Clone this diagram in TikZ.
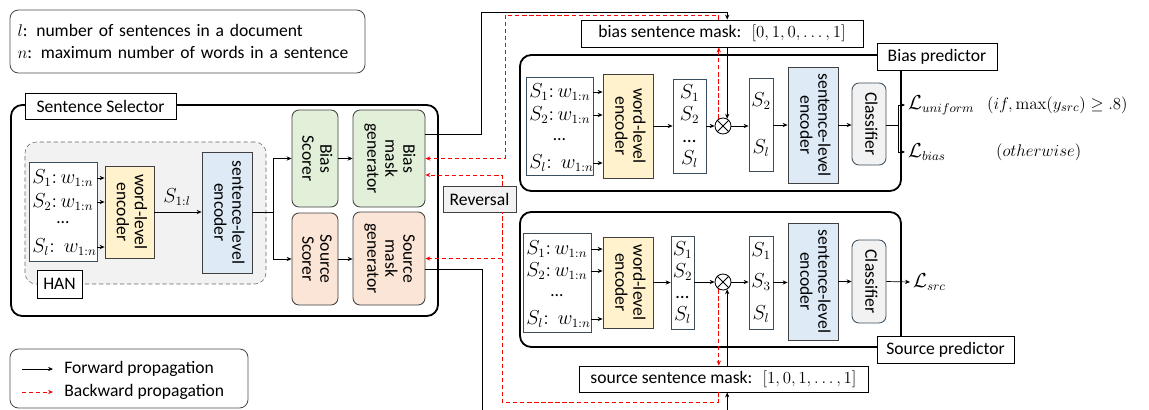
\documentclass[tikz,border=0pt]{standalone}
\usepackage{amsmath,amssymb}
\usepackage[no-math]{fontspec}
\setmainfont{Carlito}
\usepackage{graphicx}
\usetikzlibrary{arrows.meta}

\definecolor{grnfill}{HTML}{E2F0D9}
\definecolor{pchfill}{HTML}{FBE5D6}
\definecolor{ylwfill}{HTML}{FFF2CC}
\definecolor{blufill}{HTML}{DEEBF7}
\definecolor{gryfill}{HTML}{F2F2F2}
\definecolor{edge}{HTML}{3B4E5E}

% rotated (top-down) multi-line text
\newcommand{\vtxt}[1]{\rotatebox{-90}{\renewcommand{\arraystretch}{0.85}\begin{tabular}{@{}c@{}}#1\end{tabular}}}

\begin{document}
\begin{tikzpicture}[x=0.025cm, y=-0.025cm, >={Stealth[length=3.5pt,width=3pt]},
      every node/.style={font=\fontsize{12.5}{15}\selectfont, inner sep=0pt},
      mth/.style={font=\fontsize{13.5}{15.5}\selectfont},
      sz/.style 2 args={minimum width=#1*0.025cm, minimum height=#2*0.025cm},
      blk/.style={draw=black!75, line width=0.6pt},
      rblk/.style={blk, rounded corners=5pt},
      inb/.style={draw=edge, line width=0.6pt, fill=white, align=center, mth},
      frame/.style={draw, line width=1.3pt, rounded corners=8pt},
      tag/.style={draw, line width=0.6pt, fill=white},
      arr/.style={->, line width=0.5pt},
      rdash/.style={red, line width=0.6pt, dash pattern=on 3pt off 2pt},
      barr/.style={rdash, ->},
      lbl/.style={anchor=west, inner sep=2pt, mth}]

    \useasboundingbox (0,0) rectangle (1149,409);
    \clip (0,0) rectangle (1149,409);

    % ---- Notes ----
    \node[draw=black!70, line width=0.6pt, rounded corners=6pt, sz={355}{63},
          align=left, text width=340*0.025cm] (notes) at (187.5,41.5)
          {$l$: number of sentences in a document\\$n$: maximum number of words in a sentence};

    % ---- Sentence Selector ----
    \node[frame, sz={427}{211}] (sel) at (224.5,210.5) {};
    \node[draw=black!60, densely dashed, fill=gryfill, rounded corners=8pt, sz={241}{142}] (han) at (145.5,213) {};
    \node[tag, sz={151}{26}] (seltag) at (100.5,106) {Sentence Selector};
    \node[tag, sz={45}{28}] (hantag) at (59.5,284) {HAN};

    \node[inb, sz={68}{99}] (selin) at (63,211.5) {};
    \node[anchor=west, mth] (r1) at (32,178) {$S_1{:}\,w_{1:n}$};
    \node[anchor=west, mth] (r2) at (32,202) {$S_2{:}\,w_{1:n}$};
    \node (rd) at (63,223) {…};
    \node[anchor=west, mth] (rl) at (32,247) {$S_l{:}\;\,w_{1:n}$};
    \node[blk, fill=ylwfill, sz={49}{92}] (swenc) at (129.5,212) {\vtxt{word-level\\encoder}};
    \node[blk, fill=blufill, sz={50}{121}] (ssenc) at (227,212.5) {\vtxt{sentence-level\\encoder}};
    \node[mth] (s1l) at (177,197) {$S_{1:l}$};

    \node[rblk, fill=grnfill, sz={46}{97}] (bsc) at (315,158.5) {\vtxt{Bias\\Scorer}};
    \node[rblk, fill=pchfill, sz={46}{92}] (ssc) at (315,259) {\vtxt{Source\\Scorer}};
    \node[rblk, fill=grnfill, sz={72}{97}] (bmg) at (389,158.5) {\vtxt{Bias\\mask\\generator}};
    \node[rblk, fill=pchfill, sz={72}{93}] (smg) at (389,258.5) {\vtxt{Source\\mask\\generator}};
    \node[blk, fill=gryfill, sz={73}{26}] (rev) at (479.5,199) {Reversal};

    \foreach \r in {r1,r2,rl}
      \draw[arr] (\r -| selin.east) -- (\r -| swenc.west);
    \draw[arr] (swenc.east) -- (swenc.east -| ssenc.west);
    \coordinate (split) at (273,212);
    \draw (ssenc.east |- split) -- (split);
    \draw[arr] (split) |- (bsc.west);
    \draw[arr] (split) |- (ssc.west);
    \draw[arr] (bsc.east) -- (bmg.west);
    \draw[arr] (ssc.east) -- (ssc.east -| smg.west);

    % ---- Bias predictor ----
    \node[frame, sz={381}{136}] (bpred) at (710.5,123) {};
    \node[tag, sz={120}{27}] (bptag) at (937,56.5) {Bias predictor};
    \node[tag, sz={282}{27}] (bmask) at (722,33.5) {bias sentence mask:\; $[0,1,0,\dots,1]$};

    \node[inb, sz={67}{98}] (bin) at (559.5,126) {};
    \node[anchor=west, mth] (b1) at (529,92) {$S_1{:}\,w_{1:n}$};
    \node[anchor=west, mth] (b2) at (529,115) {$S_2{:}\,w_{1:n}$};
    \node (bd) at (559.5,140) {…};
    \node[anchor=west, mth] (bl) at (529,163) {$S_l{:}\;\,w_{1:n}$};
    \node[blk, fill=ylwfill, sz={50}{104}] (bwenc) at (628,126) {\vtxt{word-level\\encoder}};
    \node[inb, sz={33}{94}] (bs) at (689.5,126) {$S_1$\\$S_2$\\…\\$S_l$};
    \node[circle, draw, line width=0.6pt, minimum size=16*0.025cm] (bx) at (723,126) {};
    \draw[line width=0.6pt] (bx.north west) -- (bx.south east) (bx.north east) -- (bx.south west);
    \node[inb, sz={24}{93}] (bsel) at (761,124.5) {$S_2$\\[18pt]$S_l$};
    \node[blk, fill=blufill, sz={50}{116}] (bsenc) at (813,125) {\vtxt{sentence-level\\encoder}};
    \node[rblk, draw=edge, fill=gryfill, sz={34}{82}] (bcls) at (869,124) {\vtxt{Classifier}};
    \node[lbl] (luni) at (905,105) {$\mathcal{L}_{uniform}$};
    \node[lbl] (lbias) at (905,152) {$\mathcal{L}_{bias}$};
    \node[lbl, font=\fontsize{12.5}{15}\selectfont] (cuni) at (984,105) {$(if, \max(y_{src}) \geq .8)$};
    \node[lbl, font=\fontsize{12.5}{15}\selectfont] (cbias) at (993,152) {$(otherwise)$};

    \foreach \r in {b1,b2,bl}
      \draw[arr] (\r -| bin.east) -- (\r -| bwenc.west);
    \draw[arr] (bwenc.east) -- (bs.west);
    \draw[arr] (bs.east) -- (bx.west);
    \draw[arr] (bx.east) -- (bx.east -| bsel.west);
    \draw[arr] (bsel.east |- bsenc.west) -- (bsenc.west);
    \draw[arr] (bsenc.east) -- (bsenc.east -| bcls.west);
    \coordinate (bbr) at (898,125);
    \draw (bcls.east |- bbr) -- (bbr);
    \draw[arr] (bbr) |- (luni.west);
    \draw[arr] (bbr) |- (lbias.west);

    % ---- Source predictor ----
    \node[frame, sz={381}{135}] (spred) at (710.5,279.5) {};
    \node[tag, sz={137}{27}] (sptag) at (945.5,349.5) {Source predictor};
    \node[tag, sz={289}{26}] (smask) at (723.5,379) {source sentence mask:\; $[1,0,1,\dots,1]$};

    \node[inb, sz={68}{99}] (sin) at (557,282.5) {};
    \node[anchor=west, mth] (c1) at (526,249) {$S_1{:}\,w_{1:n}$};
    \node[anchor=west, mth] (c2) at (526,271) {$S_2{:}\,w_{1:n}$};
    \node (cd) at (557,296) {…};
    \node[anchor=west, mth] (cl) at (526,319) {$S_l{:}\;\,w_{1:n}$};
    \node[blk, fill=ylwfill, sz={50}{91}] (swenc2) at (628,282.5) {\vtxt{word-level\\encoder}};
    \node[inb, sz={23}{93}] (ss) at (682.5,282.5) {$S_1$\\$S_2$\\…\\$S_l$};
    \node[circle, draw, line width=0.6pt, minimum size=16*0.025cm] (sx) at (723,282) {};
    \draw[line width=0.6pt] (sx.north west) -- (sx.south east) (sx.north east) -- (sx.south west);
    \node[inb, sz={24}{93}] (ssel) at (761,282.5) {$S_1$\\[7pt]$S_3$\\[7pt]$S_l$};
    \node[blk, fill=blufill, sz={50}{117}] (ssenc2) at (813,281.5) {\vtxt{sentence-level\\encoder}};
    \node[rblk, draw=edge, fill=gryfill, sz={34}{83}] (scls) at (869,281.5) {\vtxt{Classifier}};
    \node[lbl] (lsrc) at (910,282) {$\mathcal{L}_{src}$};

    \foreach \r in {c1,c2,cl}
      \draw[arr] (\r -| sin.east) -- (\r -| swenc2.west);
    \draw[arr] (swenc2.east) -- (swenc2.east -| ss.west);
    \draw[arr] (ss.east |- sx.west) -- (sx.west);
    \draw[arr] (sx.east) -- (sx.east -| ssel.west);
    \draw[arr] (ssel.east) -- (ssel.east -| ssenc2.west);
    \draw[arr] (ssenc2.east) -- (ssenc2.east -| scls.west);
    \draw[arr] (scls.east) -- (lsrc.west);

    % ---- Forward: masks ----
    \coordinate (bo) at (481,134);
    \coordinate (btop) at (481,12);
    \draw[arr] (bmg.east |- bo) -| (btop) -| (bmask.north -| bx.60);
    \draw[arr] (bmask.south -| bx.60) -- (bx.60);
    \coordinate (so) at (482,269);
    \coordinate (sbot) at (482,430);
    \draw[line width=0.5pt] (smg.east |- so) -| (sbot);
    \coordinate (sup) at (727,430);
    \draw[arr] (sup -| sx.-60) -- (smask.south -| sx.-60);
    \draw[arr] (smask.north -| sx.-60) -- (sx.-60);

    % ---- Backward: gradients ----
    \coordinate (rb1) at (505,15);
    \coordinate (rb2) at (502,175);
    \coordinate (rb3) at (502,402);
    \draw[barr] (bx.120) -- (bmask.south -| bx.120);
    \draw[barr] (bmask.north -| bx.120) |- (rb1) |- (bmg.east);
    \draw[barr] (sx.-120) -- (smask.north -| sx.-120);
    \draw[rdash] (smask.south -| sx.-120) |- (rb3) -- (rev.south -| rb3);
    \draw[barr] (rb3 |- smg.east) -- (smg.east);
    \draw[barr] (rev.north -| rb2) -- (rb2) -- (bmg.east |- rb2);

    % ---- Legend ----
    \node[draw=black!70, line width=0.6pt, rounded corners=6pt, sz={238}{59}] (leg) at (129,378.5) {};
    \coordinate (f0) at (22,369);
    \coordinate (f1) at (53,369);
    \coordinate (g0) at (22,392);
    \coordinate (g1) at (53,392);
    \draw[arr] (f0) -- (f1);
    \draw[barr] (g0) -- (g1);
    \node[anchor=west] (fwd) at (64,369) {Forward propagation};
    \node[anchor=west] (bwd) at (64,392) {Backward propagation};

\end{tikzpicture}
\end{document}
